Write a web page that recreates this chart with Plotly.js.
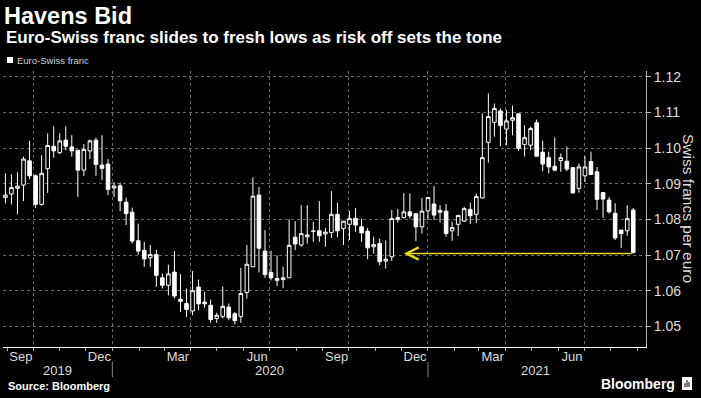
<!DOCTYPE html>
<html>
<head>
<meta charset="utf-8">
<script src="https://cdn.plot.ly/plotly-3.0.1.min.js"></script>
<style>
  html, body { margin: 0; padding: 0; background: #000; }
  #chart { width: 701px; height: 398px; }
</style>
</head>
<body>
<div id="chart"></div>
<script>
// Weekly candles (week ending Friday), EUR/CHF
const weeks = [
  '2019-08-30','2019-09-06','2019-09-13','2019-09-20','2019-09-27','2019-10-04','2019-10-11','2019-10-18','2019-10-25',
  '2019-11-01','2019-11-08','2019-11-15','2019-11-22','2019-11-29','2019-12-06','2019-12-13','2019-12-20','2019-12-27',
  '2020-01-03','2020-01-10','2020-01-17','2020-01-24','2020-01-31','2020-02-07','2020-02-14','2020-02-21','2020-02-28',
  '2020-03-06','2020-03-13','2020-03-20','2020-03-27','2020-04-03','2020-04-10','2020-04-17','2020-04-24','2020-05-01',
  '2020-05-08','2020-05-15','2020-05-22','2020-05-29','2020-06-05','2020-06-12','2020-06-19','2020-06-26','2020-07-03',
  '2020-07-10','2020-07-17','2020-07-24','2020-07-31','2020-08-07','2020-08-14','2020-08-21','2020-08-28','2020-09-04',
  '2020-09-11','2020-09-18','2020-09-25','2020-10-02','2020-10-09','2020-10-16','2020-10-23','2020-10-30','2020-11-06',
  '2020-11-13','2020-11-20','2020-11-27','2020-12-04','2020-12-11','2020-12-18','2020-12-25','2021-01-01','2021-01-08',
  '2021-01-15','2021-01-22','2021-01-29','2021-02-05','2021-02-12','2021-02-19','2021-02-26','2021-03-05','2021-03-12',
  '2021-03-19','2021-03-26','2021-04-02','2021-04-09','2021-04-16','2021-04-23','2021-04-30','2021-05-07','2021-05-14',
  '2021-05-21','2021-05-28','2021-06-04','2021-06-11','2021-06-18','2021-06-25','2021-07-02','2021-07-09','2021-07-16',
  '2021-07-23','2021-07-30','2021-08-06','2021-08-13','2021-08-20','2021-08-27'
];
const openV = [
  1.0861,1.0871,1.0887,1.0896,1.0964,1.0922,1.0842,1.0942,1.1005,1.0987,1.1022,1.1003,1.0994,1.0938,1.0992,1.1022,1.0952,1.0955,
  1.0888,1.0894,1.0848,1.0820,1.0740,1.0713,1.0692,1.0701,1.0636,1.0615,1.0652,1.0576,1.0564,1.0543,1.0610,1.0568,1.0559,1.0522,
  1.0528,1.0554,1.0535,1.0528,1.0595,1.0667,1.0868,1.0711,1.0651,1.0634,1.0631,1.0636,1.0750,1.0728,1.0751,1.0766,1.0768,1.0759,
  1.0763,1.0814,1.0774,1.0786,1.0803,1.0779,1.0767,1.0723,1.0732,1.0683,1.0695,1.0805,1.0805,1.0821,1.0816,1.0779,1.0824,1.0843,
  1.0825,1.0823,1.0768,1.0786,1.0795,1.0828,1.0814,1.0860,1.1016,1.1072,1.1104,1.1053,1.1078,1.1096,1.1010,1.1008,1.1071,1.0988,
  1.0973,1.0949,1.0965,1.0963,1.0945,1.0887,1.0922,1.0962,1.0933,1.0875,1.0854,1.0817,1.0770,1.0768,1.0826
];
const highV = [
  1.0929,1.0926,1.0932,1.0976,1.1020,1.0926,1.0980,1.1041,1.1061,1.1041,1.1061,1.1036,1.0994,1.1011,1.1024,1.1029,1.1036,1.0969,
  1.0905,1.0903,1.0861,1.0833,1.0788,1.0737,1.0728,1.0714,1.0648,1.0673,1.0711,1.0646,1.0606,1.0655,1.0631,1.0597,1.0575,1.0538,
  1.0612,1.0564,1.0540,1.0664,1.0728,1.0918,1.0891,1.0770,1.0712,1.0699,1.0667,1.0800,1.0795,1.0840,1.0840,1.0793,1.0851,1.0776,
  1.0879,1.0847,1.0795,1.0823,1.0832,1.0802,1.0776,1.0751,1.0746,1.0741,1.0826,1.0829,1.0873,1.0873,1.0816,1.0860,1.0861,1.0893,
  1.0840,1.0843,1.0793,1.0811,1.0835,1.0847,1.0872,1.1097,1.1153,1.1125,1.1111,1.1107,1.1119,1.1097,1.1064,1.1060,1.1080,1.1020,
  1.0990,1.1030,1.0985,1.1004,1.0945,1.0957,1.0977,1.0990,1.0947,1.0875,1.0863,1.0845,1.0770,1.0840,1.0832
];
const lowV = [
  1.0845,1.0842,1.0814,1.0851,1.0913,1.0832,1.0838,1.0874,1.0973,1.0983,1.0994,1.0976,1.0863,1.0922,1.0969,1.0922,1.0910,1.0868,
  1.0863,1.0823,1.0784,1.0732,1.0701,1.0667,1.0667,1.0611,1.0606,1.0587,1.0578,1.0540,1.0526,1.0531,1.0545,1.0552,1.0510,1.0510,
  1.0522,1.0517,1.0506,1.0510,1.0578,1.0667,1.0651,1.0636,1.0629,1.0613,1.0607,1.0636,1.0714,1.0723,1.0732,1.0737,1.0737,1.0723,
  1.0748,1.0750,1.0728,1.0742,1.0765,1.0737,1.0688,1.0704,1.0671,1.0662,1.0683,1.0791,1.0802,1.0802,1.0739,1.0760,1.0798,1.0798,
  1.0791,1.0751,1.0740,1.0753,1.0793,1.0787,1.0790,1.0859,1.0959,1.1032,1.1006,1.1008,1.1036,1.0992,1.0976,1.0994,1.0977,1.0935,
  1.0929,1.0935,1.0933,1.0935,1.0873,1.0875,1.0905,1.0924,1.0826,1.0804,1.0816,1.0742,1.0720,1.0754,1.0704
];
const closeV = [
  1.0868,1.0889,1.0893,1.0969,1.0922,1.0842,1.0929,1.1007,1.0992,1.1020,1.1005,1.0992,1.0938,1.0996,1.1020,1.0954,1.0943,1.0884,
  1.0893,1.0852,1.0816,1.0739,1.0711,1.0689,1.0701,1.0643,1.0615,1.0647,1.0585,1.0570,1.0547,1.0600,1.0563,1.0563,1.0519,1.0531,
  1.0556,1.0524,1.0516,1.0592,1.0674,1.0865,1.0719,1.0645,1.0636,1.0629,1.0636,1.0727,1.0731,1.0760,1.0756,1.0767,1.0754,1.0764,
  1.0814,1.0768,1.0795,1.0802,1.0784,1.0762,1.0720,1.0729,1.0681,1.0688,1.0802,1.0800,1.0821,1.0810,1.0779,1.0823,1.0861,1.0812,
  1.0820,1.0760,1.0777,1.0811,1.0830,1.0810,1.0864,1.0973,1.1088,1.1111,1.1063,1.1076,1.1085,1.0999,1.1029,1.1055,1.0977,1.0955,
  1.0947,1.0938,1.0973,1.0941,1.0874,1.0947,1.0947,1.0926,1.0856,1.0857,1.0821,1.0748,1.0760,1.0802,1.0707
];

// Reference level (earlier low) marked with the yellow arrow
const lowLevel = 1.0704;
const levelFrom = '2021-08-27';
const levelTo = '2020-12-04';

// Axis labels
const monthLabelDates = ['2019-09-17','2019-12-17','2020-03-17','2020-06-17','2020-09-17','2020-12-17','2021-03-17','2021-06-17'];
const monthLabels = ['Sep','Dec','Mar','Jun','Sep','Dec','Mar','Jun'];
const yearLabelDates = ['2019-10-29','2020-07-01','2021-05-06'];
const yearLabels = ['2019','2020','2021'];
const yearStarts = ['2020-01-01','2021-01-01'];

const xRange = ['2019-08-27 05:00', '2021-09-10 19:00'];
const yRange = [1.0442, 1.1216];

const narrow = 'Liberation Sans Narrow, Liberation Sans, Arial, sans-serif';
const sans = 'Liberation Sans, Arial, sans-serif';

// plot area in px: left 3, right 646, top 71, bottom 347
const PL = 3, PR = 646, PT = 71, PB = 347;
const px = (X) => (X - PL) / (PR - PL);
const py = (Y) => (PB - Y) / (PB - PT);

const trace = {
  type: 'candlestick',
  x: weeks, open: openV, high: highV, low: lowV, close: closeV,
  xaxis: 'x', yaxis: 'y',
  whiskerwidth: 0,
  increasing: { line: { color: '#ffffff', width: 1 }, fillcolor: '#000000' },
  decreasing: { line: { color: '#ffffff', width: 1 }, fillcolor: '#ffffff' },
  hoverinfo: 'skip',
  showlegend: false
};

const annotations = [
  { xref: 'paper', yref: 'paper', x: px(4), y: py(38), xanchor: 'left', yanchor: 'middle', showarrow: false,
    text: '<b>Euro-Swiss franc slides to fresh lows as risk off sets the tone</b>',
    font: { family: sans, size: 17, color: '#ffffff' } },
  { xref: 'paper', yref: 'paper', x: px(15), y: py(60), xanchor: 'left', yanchor: 'middle', showarrow: false,
    text: 'Euro-Swiss franc', font: { family: narrow, size: 9.5, color: '#d0d0d0' } },
  { xref: 'paper', yref: 'paper', x: px(689), y: py(208), xanchor: 'center', yanchor: 'middle', showarrow: false,
    textangle: 90, text: 'Swiss francs per euro', font: { family: sans, size: 15.5, color: '#dddddd' } },
  { xref: 'paper', yref: 'paper', x: px(6), y: py(386), xanchor: 'left', yanchor: 'middle', showarrow: false,
    text: '<b>Source: Bloomberg</b>', font: { family: sans, size: 11, color: '#ffffff' } },
  { xref: 'paper', yref: 'paper', x: px(677), y: py(384), xanchor: 'right', yanchor: 'middle', showarrow: false,
    text: '<b>Bloomberg</b>', font: { family: narrow, size: 14, color: '#ffffff' } },
  { xref: 'x', yref: 'y', axref: 'x', ayref: 'y', x: levelTo, y: lowLevel, ax: levelFrom, ay: lowLevel,
    text: '', showarrow: true, arrowhead: 5, arrowsize: 1.6, arrowwidth: 1.5, arrowcolor: '#e8da1a', standoff: 0 }
];
yearLabels.forEach((t, i) => annotations.push({
  xref: 'x', yref: 'paper', x: yearLabelDates[i], y: py(370), xanchor: 'center', yanchor: 'middle', showarrow: false,
  text: t, font: { family: narrow, size: 13, color: '#dddddd' }
}));

const shapes = [
  { type: 'rect', xref: 'paper', yref: 'paper', x0: px(7), x1: px(13), y0: py(63), y1: py(57),
    fillcolor: '#ffffff', line: { width: 0 } },
  { type: 'rect', xref: 'paper', yref: 'paper', x0: px(682), x1: px(692), y0: py(390), y1: py(377),
    fillcolor: '#ffffff', line: { width: 0 } },
  { type: 'rect', xref: 'paper', yref: 'paper', x0: px(684.5), x1: px(685.5), y0: py(387), y1: py(383),
    fillcolor: '#000000', line: { width: 0 } },
  { type: 'rect', xref: 'paper', yref: 'paper', x0: px(686.5), x1: px(687.5), y0: py(387), y1: py(380),
    fillcolor: '#000000', line: { width: 0 } },
  { type: 'rect', xref: 'paper', yref: 'paper', x0: px(688.5), x1: px(689.5), y0: py(387), y1: py(382),
    fillcolor: '#000000', line: { width: 0 } }
];
yearStarts.forEach(d => shapes.push({
  type: 'line', xref: 'x', yref: 'paper', x0: d, x1: d, y0: py(362), y1: py(377),
  line: { color: '#888888', width: 1 }
}));

const layout = {
  width: 701, height: 398,
  paper_bgcolor: '#000000', plot_bgcolor: '#000000',
  margin: { l: PL, r: 701 - PR, t: PT, b: 398 - PB, pad: 0 },
  showlegend: false,
  boxgap: 0.15,
  title: { text: '<b>Havens Bid</b>', xref: 'container', yref: 'container', x: 4 / 701, xanchor: 'left',
           y: 1 - 16 / 398, yanchor: 'middle', font: { family: sans, size: 23.5, color: '#ffffff' } },
  xaxis: {
    type: 'date', range: xRange, fixedrange: true,
    tick0: '2019-01-01', dtick: 'M3', showticklabels: false,
    ticks: 'outside', ticklen: 3, tickcolor: '#aaaaaa',
    showgrid: true, gridcolor: '#6a6a6a', griddash: 'dot', gridwidth: 1,
    minor: { tick0: '2019-01-01', dtick: 'M1', ticks: 'outside', ticklen: 3, tickcolor: '#aaaaaa', showgrid: false },
    showline: true, linecolor: '#ffffff', linewidth: 1, zeroline: false,
    rangeslider: { visible: false }
  },
  xaxis2: {
    type: 'date', range: xRange, overlaying: 'x', anchor: 'y', side: 'bottom', fixedrange: true,
    tickmode: 'array', tickvals: monthLabelDates, ticktext: monthLabels,
    ticks: '', showgrid: false, showline: false, zeroline: false,
    tickfont: { family: narrow, size: 13, color: '#dddddd' }
  },
  yaxis: {
    side: 'right', range: yRange, fixedrange: true,
    tick0: 1.0, dtick: 0.01, tickformat: '.2f',
    showgrid: true, gridcolor: '#6a6a6a', griddash: 'dot', gridwidth: 1,
    showline: true, linecolor: '#bbbbbb', linewidth: 1,
    ticks: 'outside', ticklen: 4, tickcolor: '#bbbbbb',
    tickfont: { family: narrow, size: 14, color: '#dddddd' },
    zeroline: false
  },
  annotations: annotations,
  shapes: shapes
};

const dummy = { type: 'scatter', x: [], y: [], xaxis: 'x2', yaxis: 'y', hoverinfo: 'skip', showlegend: false };

Plotly.newPlot('chart', [trace, dummy], layout, { staticPlot: true, displayModeBar: false });
</script>
</body>
</html>
